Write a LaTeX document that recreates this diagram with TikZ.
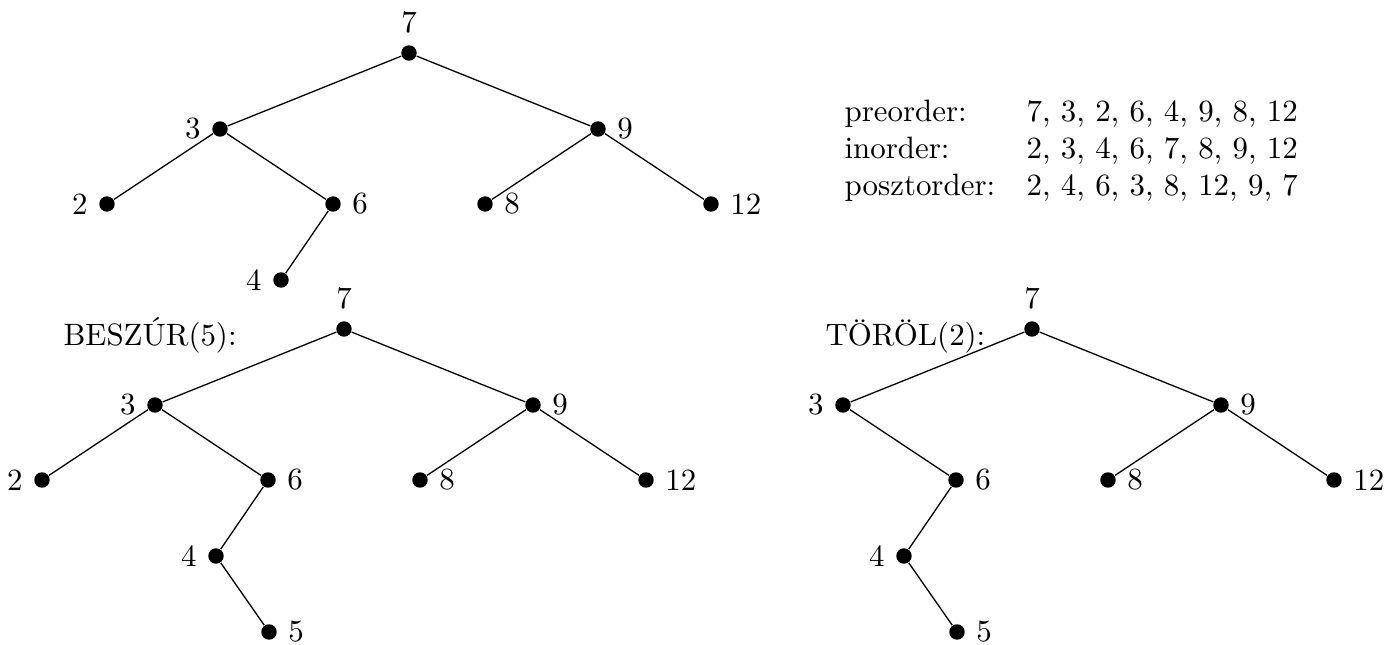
\documentclass[tikz,border=0pt]{standalone}
\usepackage{fontspec}
\begin{document}
\begin{tikzpicture}[x=0.3236pt,y=-0.3236pt,
  dot/.style={circle,fill=black,inner sep=0pt,minimum size=5pt},
  edge/.style={line width=0.42pt},
  every label/.style={inner sep=0pt},
  label distance=3.4pt,
  txt/.style={inner sep=0pt,anchor=base west}]
\useasboundingbox (0,0) rectangle (1395,644);
% top tree
\begin{scope}[shift={(409,53)}]
  \node[dot,label=above:7]  (a7)  at (0,0) {};
  \node[dot,label=left:3]   (a3)  at (-189,76) {};
  \node[dot,label=right:9]  (a9)  at (189,76) {};
  \node[dot,label=left:2]   (a2)  at (-302,151) {};
  \node[dot,label=right:6]  (a6)  at (-76,151) {};
  \node[dot,label=right:8]  (a8)  at (76,151) {};
  \node[dot,label=right:12] (a12) at (302,151) {};
  \node[dot,label=left:4]   (a4)  at (-128,227) {};
\end{scope}
\draw[edge] (a7)--(a3) (a7)--(a9) (a3)--(a2) (a3)--(a6) (a6)--(a4) (a9)--(a8) (a9)--(a12);
% traversal text
\node[txt] (p1) at (844,121) {preorder:};
\node[txt] (i1) at (844,158) {inorder:};
\node[txt] (q1) at (844,195) {posztorder:};
\node[txt] (p2) at (1026,121) {7, 3, 2, 6, 4, 9, 8, 12};
\node[txt] (i2) at (1026,158) {2, 3, 4, 6, 7, 8, 9, 12};
\node[txt] (q2) at (1026,195) {2, 4, 6, 3, 8, 12, 9, 7};
% insert tree
\node[txt] (ins) at (63,345) {BESZÚR(5):};
\begin{scope}[shift={(344,329)}]
  \node[dot,label=above:7]  (b7)  at (0,0) {};
  \node[dot,label=left:3]   (b3)  at (-189,76) {};
  \node[dot,label=right:9]  (b9)  at (189,76) {};
  \node[dot,label=left:2]   (b2)  at (-302,151) {};
  \node[dot,label=right:6]  (b6)  at (-76,151) {};
  \node[dot,label=right:8]  (b8)  at (76,151) {};
  \node[dot,label=right:12] (b12) at (302,151) {};
  \node[dot,label=left:4]   (b4)  at (-128,227) {};
  \node[dot,label=right:5]  (b5)  at (-75,303) {};
\end{scope}
\draw[edge] (b7)--(b3) (b7)--(b9) (b3)--(b2) (b3)--(b6) (b6)--(b4) (b4)--(b5) (b9)--(b8) (b9)--(b12);
% delete tree
\node[txt] (del) at (825,345) {TÖRÖL(2):};
\begin{scope}[shift={(1032,329)}]
  \node[dot,label=above:7]  (c7)  at (0,0) {};
  \node[dot,label=left:3]   (c3)  at (-189,76) {};
  \node[dot,label=right:9]  (c9)  at (189,76) {};
  \node[dot,label=right:6]  (c6)  at (-76,151) {};
  \node[dot,label=right:8]  (c8)  at (76,151) {};
  \node[dot,label=right:12] (c12) at (302,151) {};
  \node[dot,label=left:4]   (c4)  at (-128,227) {};
  \node[dot,label=right:5]  (c5)  at (-75,303) {};
\end{scope}
\draw[edge] (c7)--(c3) (c7)--(c9) (c3)--(c6) (c6)--(c4) (c4)--(c5) (c9)--(c8) (c9)--(c12);
\end{tikzpicture}
\end{document}
